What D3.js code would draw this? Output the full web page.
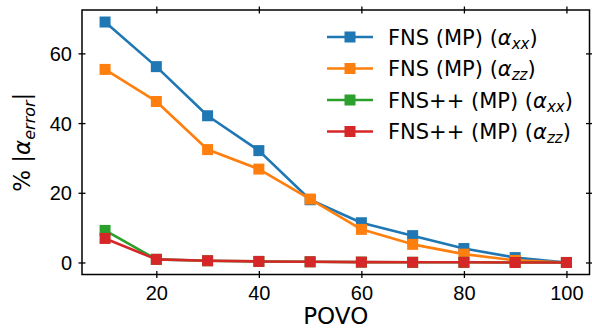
<!DOCTYPE html>
<html>
<head>
<meta charset="utf-8">
<script src="https://cdn.jsdelivr.net/npm/d3@7"></script>
<style>
  body { margin: 0; background: #fff; }
  svg { display: block; font-family: "DejaVu Sans", sans-serif; }
</style>
</head>
<body>
<div id="chart"></div>
<script>
// POVO values on the x axis
const povo = [10, 20, 30, 40, 50, 60, 70, 80, 90, 100];

// % |alpha_error| for each series
const fnsXX = [69, 56.2, 42.1, 32.1, 18, 11.4, 7.7, 4.0, 1.4, 0];
const fnsZZ = [55.4, 46.2, 32.4, 26.8, 18.2, 9.5, 5.2, 2.4, 0.6, 0];
const fnsppXX = [9.2, 0.9, 0.5, 0.3, 0.2, 0.1, 0.05, 0.05, 0, 0];
const fnsppZZ = [6.9, 0.9, 0.5, 0.3, 0.2, 0.1, 0.05, 0.05, 0, 0];

const seriesNames = ["FNS (MP)", "FNS (MP)", "FNS++ (MP)", "FNS++ (MP)"];
const seriesSubs = ["xx", "zz", "xx", "zz"];
const seriesColors = ["#1f77b4", "#ff7f0e", "#2ca02c", "#d62728"];
const seriesValues = [fnsXX, fnsZZ, fnsppXX, fnsppZZ];

const xTicks = [20, 40, 60, 80, 100];
const yTicks = [0, 20, 40, 60];

const W = 592, H = 335;
const margin = { top: 10, right: 2.5, bottom: 60.5, left: 82 };
const width = W - margin.left - margin.right;
const height = H - margin.top - margin.bottom;

const svg = d3.select("#chart").append("svg")
  .attr("width", W)
  .attr("height", H);

const g = svg.append("g")
  .attr("transform", `translate(${margin.left},${margin.top})`);

const x = d3.scaleLinear().domain([5.5, 104.5]).range([0, width]);
const y = d3.scaleLinear().domain([-3.45, 72.45]).range([height, 0]);

// Bottom axis (ticks in and out)
const xb = g.append("g")
  .attr("transform", `translate(0,${height})`)
  .call(d3.axisBottom(x).tickValues(xTicks).tickSize(0).tickPadding(0).tickFormat(d3.format("d")));
xb.select(".domain").remove();
xb.selectAll(".tick line").attr("y1", -3.5).attr("y2", 3.5).attr("stroke", "#000").attr("stroke-width", 1.3);
xb.selectAll(".tick text").attr("y", 11).attr("dy", "0.71em").style("font-size", "20px").attr("fill", "#000");

// Top axis ticks
const xt = g.append("g")
  .call(d3.axisTop(x).tickValues(xTicks).tickSize(0).tickFormat(""));
xt.select(".domain").remove();
xt.selectAll(".tick line").attr("y1", -3.5).attr("y2", 3.5).attr("stroke", "#000").attr("stroke-width", 1.3);

// Left axis
const yl = g.append("g")
  .call(d3.axisLeft(y).tickValues(yTicks).tickSize(0).tickPadding(0).tickFormat(d3.format("d")));
yl.select(".domain").remove();
yl.selectAll(".tick line").attr("x1", -3.5).attr("x2", 3.5).attr("stroke", "#000").attr("stroke-width", 1.3);
yl.selectAll(".tick text").attr("x", -10).attr("dy", "0.36em").style("font-size", "20px").attr("fill", "#000");

// Right axis ticks
const yr = g.append("g")
  .attr("transform", `translate(${width},0)`)
  .call(d3.axisRight(y).tickValues(yTicks).tickSize(0).tickFormat(""));
yr.select(".domain").remove();
yr.selectAll(".tick line").attr("x1", -3.5).attr("x2", 3.5).attr("stroke", "#000").attr("stroke-width", 1.3);

// Frame
g.append("rect")
  .attr("width", width)
  .attr("height", height)
  .attr("fill", "none")
  .attr("stroke", "#000")
  .attr("stroke-width", 1.5);

// Lines and square markers
const line = d3.line()
  .x(d => x(d[0]))
  .y(d => y(d[1]));

const ms = 11;
seriesValues.forEach((vals, i) => {
  const pts = povo.map((p, j) => [p, vals[j]]);
  g.append("path")
    .datum(pts)
    .attr("fill", "none")
    .attr("stroke", seriesColors[i])
    .attr("stroke-width", 2.6)
    .attr("stroke-linejoin", "round")
    .attr("d", line);
  g.append("g").selectAll("rect")
    .data(pts)
    .enter().append("rect")
    .attr("x", d => x(d[0]) - ms / 2)
    .attr("y", d => y(d[1]) - ms / 2)
    .attr("width", ms)
    .attr("height", ms)
    .attr("fill", seriesColors[i]);
});

// Legend
const legend = svg.append("g").attr("transform", "translate(327,37)");
seriesNames.forEach((name, i) => {
  const row = legend.append("g").attr("transform", `translate(0,${i * 31.5})`);
  row.append("line")
    .attr("x1", 0).attr("x2", 46)
    .attr("stroke", seriesColors[i])
    .attr("stroke-width", 2.6);
  row.append("rect")
    .attr("x", 23 - ms / 2).attr("y", -ms / 2)
    .attr("width", ms).attr("height", ms)
    .attr("fill", seriesColors[i]);
  const t = row.append("text")
    .attr("x", 61)
    .attr("dy", "0.36em")
    .style("font-size", "21px")
    .attr("fill", "#000");
  t.append("tspan").text(name + " (");
  t.append("tspan").style("font-style", "italic").text("\u03b1");
  t.append("tspan").style("font-style", "italic").style("font-size", "15px").attr("dy", 4).text(seriesSubs[i]);
  t.append("tspan").attr("dy", -4).text(")");
});

// X axis label
svg.append("text")
  .attr("x", margin.left + width / 2)
  .attr("y", 324)
  .attr("text-anchor", "middle")
  .style("font-size", "23px")
  .attr("fill", "#000")
  .text("POVO");

// Y axis label
const yLab = svg.append("text")
  .attr("transform", `translate(30,${margin.top + height / 2}) rotate(-90)`)
  .attr("text-anchor", "middle")
  .style("font-size", "23px")
  .attr("fill", "#000");
yLab.append("tspan").text("% |");
yLab.append("tspan").style("font-style", "italic").text("\u03b1");
yLab.append("tspan").style("font-style", "italic").style("font-size", "16px").attr("dy", 5).text("error");
yLab.append("tspan").attr("dy", -5).text("|");
</script>
</body>
</html>
